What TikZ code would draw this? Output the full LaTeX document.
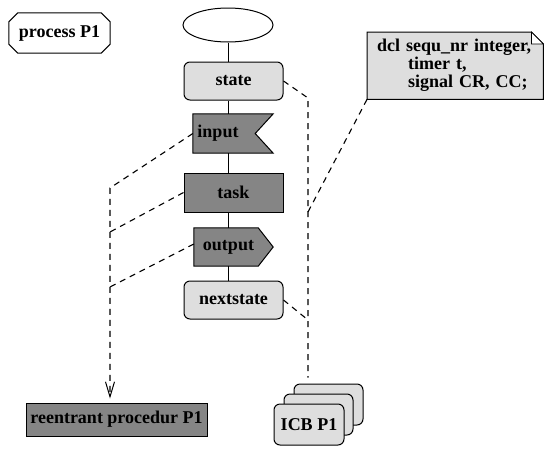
\documentclass[tikz,border=0pt]{standalone}
\usepackage{fontspec}
\setmainfont{Liberation Serif}
\usetikzlibrary{shapes.geometric,arrows.meta,calc}
\begin{document}
\begin{tikzpicture}[x=1pt,y=-1pt,
  font=\fontsize{18}{18}\selectfont\bfseries,
  box/.style={draw=black,line width=1pt,inner sep=2pt},
  lightbox/.style={box,fill=black!13,rounded corners=6pt,minimum width=99pt,minimum height=38pt},
  darkbox/.style={box,fill=black!48},
  frame/.style={draw=none,inner sep=0pt},
  outline/.style={draw=black,line width=1pt},
  spine/.style={line width=1pt},
  link/.style={line width=1.1pt,dash pattern=on 6pt off 5pt}]
\useasboundingbox (0,0) rectangle (544,448);

% header: process symbol with cut corners
\node[frame,minimum width=101pt,minimum height=40pt] (proc) at (59.5,33) {};
\draw[outline] ($(proc.north west)+(9,0)$) -- ($(proc.north east)+(-9,0)$)
  -- ($(proc.north east)+(0,9)$) -- ($(proc.south east)+(0,-9)$)
  -- ($(proc.south east)+(-9,0)$) -- ($(proc.south west)+(9,0)$)
  -- ($(proc.south west)+(0,-9)$) -- ($(proc.north west)+(0,9)$) -- cycle;
\node (proctext) at (proc.center) {process P1};

% process graph
\node[box,ellipse,minimum width=90pt,minimum height=34pt] (start) at (228,25) {};
\node[lightbox] (state) at (233.5,81) {state};

% input symbol: rectangle with a notch on its right side
\node[frame,minimum width=80pt,minimum height=39pt] (input) at (233,133.5) {};
\filldraw[outline,fill=black!48] (input.north west) -- (input.north east)
  -- ($(input.east)+(-18,0)$) -- (input.south east) -- (input.south west) -- cycle;
\node (inputtext) at ($(input.center)+(-15,0)$) {input};

\node[darkbox,minimum width=99pt,minimum height=39pt] (task) at (233.5,192.5) {task};

% output symbol: rectangle with a point on its right side
\node[frame,minimum width=79pt,minimum height=38pt] (output) at (233.5,247) {};
\filldraw[outline,fill=black!48] (output.north west) -- ($(output.north east)+(-15,0)$)
  -- (output.east) -- ($(output.south east)+(-15,0)$) -- (output.south west) -- cycle;
\node (outputtext) at ($(output.center)+(-5,0)$) {output};

\node[lightbox] (next) at (233.5,300) {nextstate};

\draw[spine] (start.south) -- (start.south |- state.north);
\draw[spine] (start.south |- state.south) -- (start.south |- input.north);
\draw[spine] (start.south |- input.south) -- (start.south |- task.north);
\draw[spine] (start.south |- task.south) -- (start.south |- output.north);
\draw[spine] (start.south |- output.south) -- (start.south |- next.north);

% declarations note with folded corner
\node[frame,anchor=north west,minimum width=176pt,minimum height=67pt] (note) at (367,32) {};
\filldraw[outline,fill=black!13] (note.south west) -- (note.north west) -- ($(note.north east)+(-12,0)$)
  -- ($(note.north east)+(0,12)$) -- (note.south east) -- cycle;
\filldraw[fill=white,draw=black,line width=0.8pt] ($(note.north east)+(-12,0)$) -- ($(note.north east)+(-12,12)$)
  -- ($(note.north east)+(0,12)$) -- cycle;
\node[anchor=north west,text width=156pt,inner xsep=10pt,inner ysep=0pt,
      minimum height=67pt,align=left] (notetext) at (note.north west)
  {dcl sequ\_nr integer,\\\hspace*{31pt}timer t,\\\hspace*{31pt}signal CR, CC;};

% instance control blocks
\node[box,fill=black!13,rounded corners=6pt,minimum width=69pt,minimum height=41pt] (icb3) at (328.5,404.5) {};
\node[box,fill=black!13,rounded corners=6pt,minimum width=69pt,minimum height=41pt] (icb2) at (318.5,414.5) {};
\node[box,fill=black!13,rounded corners=6pt,minimum width=70pt,minimum height=41pt] (icb) at (309,424.5) {ICB P1};

% shared procedure
\node[darkbox,minimum width=181pt,minimum height=33pt] (reent) at (116.5,419.5) {reentrant procedur P1};

% dashed associations, right side
\coordinate (sj) at (308,98);
\coordinate (nj) at (308,212);
\coordinate (ej) at (308,320);
\draw[link] (state.east) -- (sj) -- ($(sj |- icb3.north)+(0,-6)$);
\draw[link] (note.south west) -- (nj);
\draw[link] (next.east) -- (ej);

% dashed associations, left side
\coordinate (lj) at (110,188);
\coordinate (tj) at (110,232);
\coordinate (oj) at (110,287);
\draw[link,-{Straight Barb[length=15pt,width=9pt,line width=1pt]},shorten >=4pt]
  (input.west) -- (lj) -- (lj |- reent.north);
\draw[link] (task.west) -- (tj);
\draw[link] ($(output.west)+(0,-3)$) -- (oj);
\end{tikzpicture}
\end{document}
